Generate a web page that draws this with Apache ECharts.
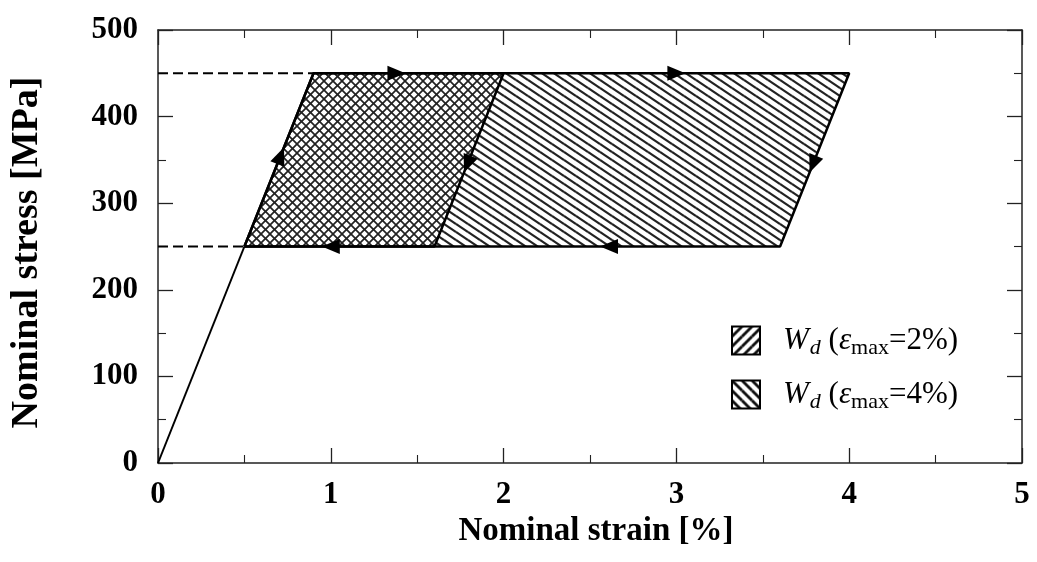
<!DOCTYPE html>
<html><head><meta charset="utf-8">
<script src="https://cdn.jsdelivr.net/npm/echarts@6/dist/echarts.min.js"></script>
<style>html,body{margin:0;padding:0;background:#fff}#c{width:1037px;height:562px}</style>
</head><body><div id="c"></div>
<script>
// ---- data ----
const xTicks = [0, 1, 2, 3, 4, 5];
const yTicks = [0, 100, 200, 300, 400, 500];
const elasticStrain = [0, 0.5];
const elasticStress = [0, 250];
const loop2Strain = [0.5, 0.9, 2.0, 1.6];
const loop2Stress = [250, 450, 450, 250];
const loop4Strain = [0.5, 0.9, 4.0, 3.6];
const loop4Stress = [250, 450, 450, 250];
const dashStress = [450, 250];
const dashStrainEnd = [0.9, 0.5];
const arrowStrain = [0.71, 1.38, 1.79, 3.0, 3.79, 2.61, 1.0];
const arrowStress = [355, 450, 345, 450, 345, 250, 250];
const arrowDirStrain = [0.4, 1, -0.4, 1, -0.4, -1, -1];
const arrowDirStress = [200, 0, -200, 0, -200, 0, 0];
const seriesNames = ['Wd (εmax=2%)', 'Wd (εmax=4%)'];
const seriesPct = ['2%', '4%'];

// ---- hatch textures ----
function hatch(w, h, dirs, lw, color) {
  const c = document.createElement('canvas');
  c.width = w; c.height = h;
  const g = c.getContext('2d');
  g.fillStyle = '#fff'; g.fillRect(0, 0, w, h);
  g.strokeStyle = color; g.lineWidth = lw;
  for (const d of dirs) {
    for (let i = -1; i <= 1; i++) for (let j = -1; j <= 1; j++) {
      g.beginPath();
      if (d === 'b') { g.moveTo(i * w, j * h); g.lineTo(i * w + w, j * h + h); }
      else { g.moveTo(i * w, j * h + h); g.lineTo(i * w + w, j * h); }
      g.stroke();
    }
  }
  return { image: c, repeat: 'repeat' };
}
const tex4 = hatch(12, 8, ['b'], 2.2, '#222');
const tex2 = hatch(9, 9, ['b', 'f'], 1.7, '#222');
const leg2 = hatch(10, 10, ['f'], 2.8, '#111');
const leg4 = hatch(10, 10, ['b'], 2.8, '#111');

const FONT = '"Liberation Serif", "Times New Roman", serif';

function polyRender(xs, ys, tex) {
  return function (params, api) {
    if (params.dataIndex !== 0) return null;
    const pts = xs.map((x, i) => api.coord([x, ys[i]]));
    return { type: 'polygon', shape: { points: pts }, style: { fill: tex, stroke: null } };
  };
}

function arrowRender(params, api) {
  const x = api.value(0), y = api.value(1);
  const p = api.coord([x, y]);
  const q = api.coord([x + api.value(2) * 0.01, y + api.value(3) * 0.01]);
  let ux = q[0] - p[0], uy = q[1] - p[1];
  const n = Math.hypot(ux, uy) || 1; ux /= n; uy /= n;
  const L = 18, W = 15;
  const tip = [p[0] + ux * L / 2, p[1] + uy * L / 2];
  const b = [p[0] - ux * L / 2, p[1] - uy * L / 2];
  return {
    type: 'polygon',
    shape: { points: [tip, [b[0] - uy * W / 2, b[1] + ux * W / 2], [b[0] + uy * W / 2, b[1] - ux * W / 2]] },
    style: { fill: '#000', stroke: null }
  };
}

const closed = (xs, ys) => xs.map((x, i) => [x, ys[i]]).concat([[xs[0], ys[0]]]);

const axisLineStyle = { color: '#222', width: 1.5 };
const labelStyle = { fontFamily: FONT, fontWeight: 'bold', fontSize: 31, color: '#000' };
function xAx(pos, show) {
  return {
    type: 'value', position: pos, min: xTicks[0], max: xTicks[xTicks.length - 1], interval: 1,
    axisLine: { show: true, onZero: false, lineStyle: axisLineStyle },
    axisTick: { show: true, inside: true, length: 15, lineStyle: { color: '#222', width: 1.3 } },
    minorTick: { show: true, splitNumber: 2, length: 8, lineStyle: { color: '#222', width: 1.1 } },
    splitLine: { show: false },
    axisLabel: Object.assign({ show: show, margin: 16 }, labelStyle),
    name: show ? 'Nominal strain [%]' : '', nameLocation: 'middle', nameGap: 52,
    nameTextStyle: { fontFamily: FONT, fontWeight: 'bold', fontSize: 33, color: '#000', padding: [0, 0, 0, 12] }
  };
}
function yAx(pos, show) {
  return {
    type: 'value', position: pos, min: yTicks[0], max: yTicks[yTicks.length - 1], interval: 100,
    axisLine: { show: true, onZero: false, lineStyle: axisLineStyle },
    axisTick: { show: true, inside: true, length: 15, lineStyle: { color: '#222', width: 1.3 } },
    minorTick: { show: true, splitNumber: 2, length: 8, lineStyle: { color: '#222', width: 1.1 } },
    splitLine: { show: false },
    axisLabel: Object.assign({ show: show, margin: 20 }, labelStyle),
    name: show ? 'Nominal stress [MPa]' : '', nameLocation: 'middle', nameGap: 112,
    nameTextStyle: { fontFamily: FONT, fontWeight: 'bold', fontSize: 38, color: '#000', padding: [0, 12, 0, 0] }
  };
}

const chart = echarts.init(document.getElementById('c'), null, { renderer: 'canvas' });
const sub = { fontFamily: FONT, fontSize: 22, color: '#000', padding: [15, 0, 0, 0] };
chart.setOption({
  animation: false,
  backgroundColor: '#fff',
  grid: { left: 158, right: 15, top: 30, bottom: 99, containLabel: false, outerBoundsMode: 'none' },
  xAxis: [xAx('bottom', true), xAx('top', false)],
  yAxis: [yAx('left', true), yAx('right', false)],
  legend: {
    orient: 'vertical', left: 726, top: 320, itemWidth: 28, itemHeight: 28, itemGap: 20,
    icon: 'rect', selectedMode: false,
    data: [
      { name: seriesNames[0], itemStyle: { color: leg2, borderColor: '#000', borderWidth: 2 } },
      { name: seriesNames[1], itemStyle: { color: leg4, borderColor: '#000', borderWidth: 2 } }
    ],
    formatter: function (name) {
      const pct = seriesPct[seriesNames.indexOf(name)];
      return '{sp|}{w|W}{d|d}{n| (}{e|ε}{s|max}{n|=' + pct + ')}';
    },
    textStyle: {
      fontFamily: FONT, fontSize: 31, color: '#000',
      rich: {
        sp: { width: 18 },
        w: { fontFamily: FONT, fontStyle: 'italic', fontSize: 31, color: '#000' },
        d: Object.assign({}, sub, { fontStyle: 'italic', padding: [15, 0, 0, 1] }),
        n: { fontFamily: FONT, fontSize: 31, color: '#000' },
        e: { fontFamily: FONT, fontStyle: 'italic', fontSize: 31, color: '#000' },
        s: sub
      }
    }
  },
  series: [
    {
      name: seriesNames[1], type: 'custom', renderItem: polyRender(loop4Strain, loop4Stress, tex4),
      data: loop4Strain.map((x, i) => [x, loop4Stress[i]]), encode: { x: 0, y: 1 },
      itemStyle: { color: leg4 }, z: 1, silent: true
    },
    {
      name: seriesNames[0], type: 'custom', renderItem: polyRender(loop2Strain, loop2Stress, tex2),
      data: loop2Strain.map((x, i) => [x, loop2Stress[i]]), encode: { x: 0, y: 1 },
      itemStyle: { color: leg2 }, z: 2, silent: true
    },
    {
      type: 'line', data: closed(loop4Strain, loop4Stress), symbol: 'none', z: 5, silent: true,
      lineStyle: { color: '#000', width: 2.5 }
    },
    {
      type: 'line', data: closed(loop2Strain, loop2Stress), symbol: 'none', z: 5, silent: true,
      lineStyle: { color: '#000', width: 2.5 }
    },
    {
      type: 'line', data: elasticStrain.map((x, i) => [x, elasticStress[i]]), symbol: 'none', z: 5, silent: true,
      lineStyle: { color: '#000', width: 2 }
    },
    ...dashStress.map((s, i) => ({
      type: 'line', data: [[0, s], [dashStrainEnd[i], s]], symbol: 'none', z: 4, silent: true,
      lineStyle: { color: '#000', width: 2, type: [10, 5] }
    })),
    {
      type: 'custom', renderItem: arrowRender, z: 6, silent: true,
      data: arrowStrain.map((x, i) => [x, arrowStress[i], arrowDirStrain[i], arrowDirStress[i]]),
      encode: { x: 0, y: 1 }
    }
  ]
});
</script>
</body></html>
